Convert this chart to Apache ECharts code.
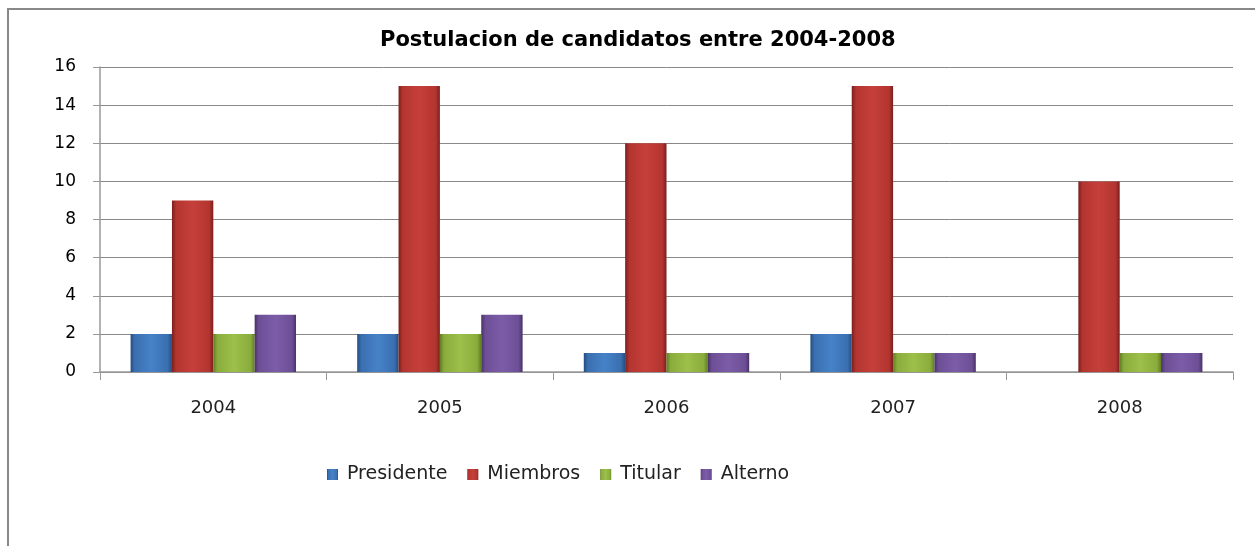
<!DOCTYPE html>
<html><head><meta charset="utf-8">
<script src="https://cdn.jsdelivr.net/npm/echarts@6/dist/echarts.min.js"></script>
<style>html,body{margin:0;padding:0;background:#fff}#c{width:1255px;height:546px}</style>
</head><body><div id="c"></div>
<script>
const categories = ['2004','2005','2006','2007','2008'];
const presidente = [2, 2, 1, 2, 0];
const miembros = [9, 15, 12, 15, 10];
const titular = [2, 2, 1, 1, 1];
const alterno = [3, 3, 1, 1, 1];
const yTicks = [0, 2, 4, 6, 8, 10, 12, 14, 16];

function grad(dark, mid, light) {
  return new echarts.graphic.LinearGradient(0, 0, 1, 0, [
    {offset: 0, color: dark}, {offset: 0.1, color: mid}, {offset: 0.5, color: light},
    {offset: 0.9, color: mid}, {offset: 1, color: dark}
  ]);
}
const colors = [
  grad('#244d80', '#3a6fb0', '#4682c8'),
  grad('#7a1f1c', '#b33530', '#c63f3a'),
  grad('#5f7d22', '#8aac3c', '#9cc04a'),
  grad('#4a3268', '#6d4f96', '#7c5ca8')
];
function mk(name, data, i) {
  return {
    name, type: 'bar', data, barGap: '0%', barCategoryGap: '27%',
    itemStyle: {color: colors[i], borderWidth: 0},
    emphasis: {disabled: true}
  };
}
const chart = echarts.init(document.getElementById('c'));
chart.setOption({
  animation: false,
  title: {
    text: 'Postulacion de candidatos entre 2004-2008', left: 375, top: 25,
    textStyle: {fontFamily: 'DejaVu Sans', fontSize: 21, fontWeight: 'bold', color: '#000'}
  },
  legend: {
    bottom: 57, left: 322, itemWidth: 11, itemHeight: 11, itemGap: 20,
    icon: 'rect',
    textStyle: {fontFamily: 'DejaVu Sans', fontSize: 19, color: '#222', padding: [0, 0, 0, 4]}
  },
  grid: {left: 100, right: 22, top: 67, bottom: 174, containLabel: false},
  xAxis: {
    type: 'category', data: categories,
    axisLine: {lineStyle: {color: '#999', width: 1.5}},
    axisTick: {show: true, length: 8, lineStyle: {color: '#999'}},
    axisLabel: {margin: 27, fontFamily: 'DejaVu Sans', fontSize: 18, color: '#222'}
  },
  yAxis: {
    type: 'value', min: yTicks[0], max: yTicks[yTicks.length - 1], interval: 2,
    axisLine: {show: true, lineStyle: {color: '#999', width: 1.5}},
    axisTick: {show: true, length: 7, lineStyle: {color: '#999'}},
    splitLine: {lineStyle: {color: '#888', width: 1}},
    axisLabel: {margin: 24, fontFamily: 'DejaVu Sans', fontSize: 17, color: '#000'}
  },
  graphic: [{
    type: 'polyline', shape: {points: [[8, 546], [8, 9], [1255, 9]]},
    style: {stroke: '#888', lineWidth: 2, fill: null}
  }],
  series: [
    mk('Presidente', presidente, 0),
    mk('Miembros', miembros, 1),
    mk('Titular', titular, 2),
    mk('Alterno', alterno, 3)
  ]
});
</script></body></html>
